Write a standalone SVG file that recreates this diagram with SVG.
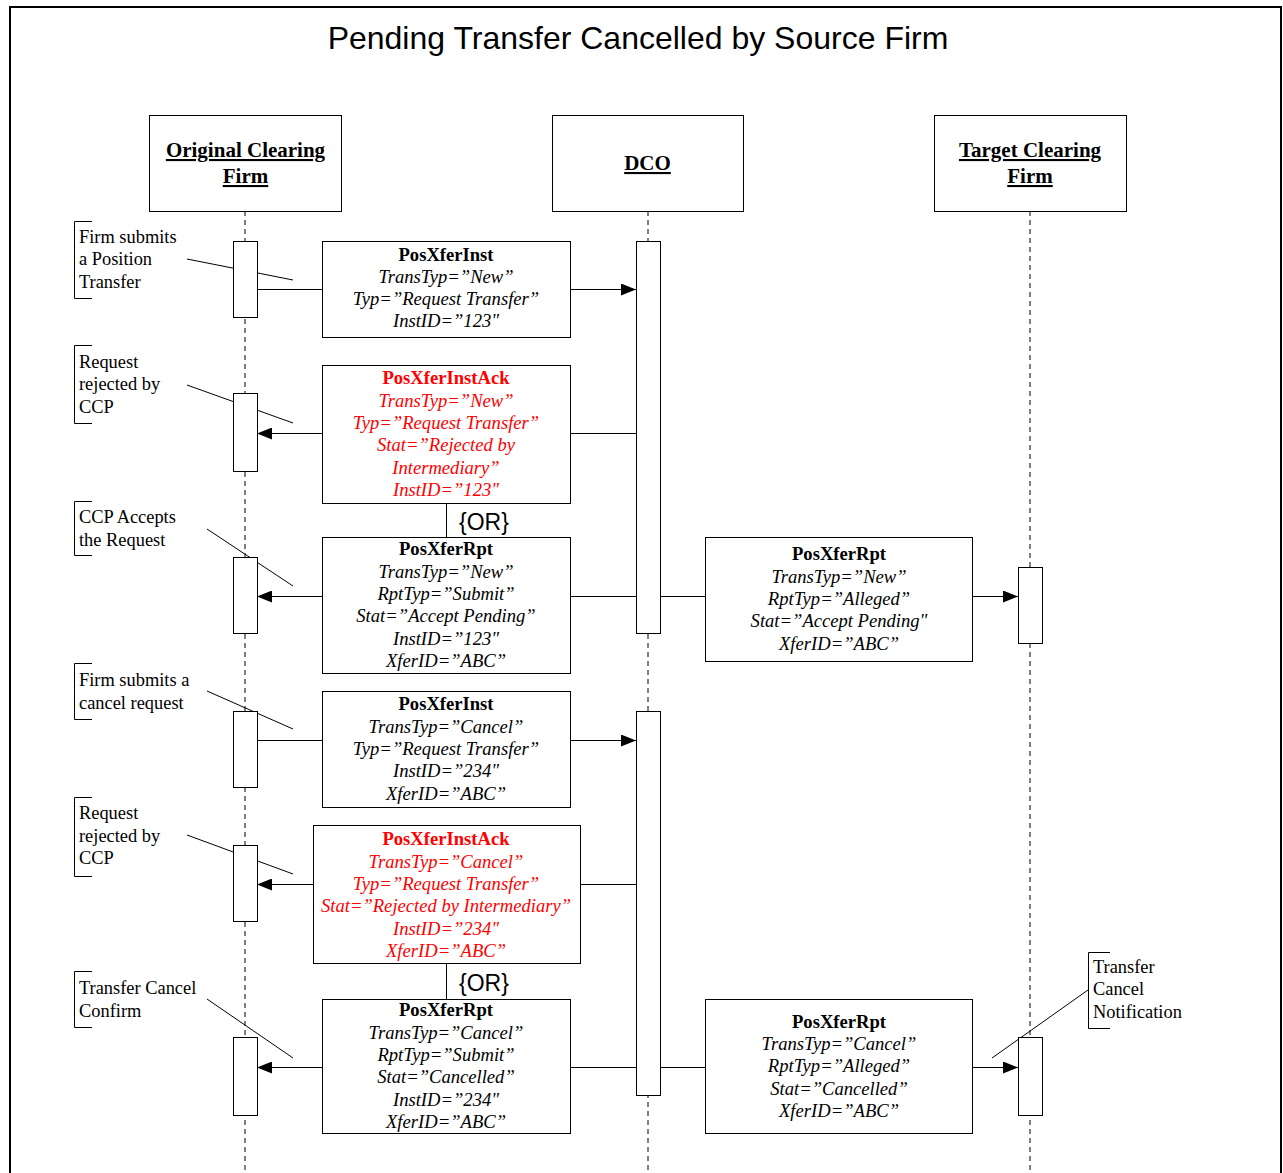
<svg xmlns="http://www.w3.org/2000/svg" width="1283" height="1173" viewBox="0 0 1283 1173">
<style>
.title{font-family:"Liberation Sans",Arial,sans-serif;font-size:32px;fill:#000;text-anchor:middle}
.hdr{font-family:"Liberation Serif","Times New Roman",serif;font-size:21px;font-weight:bold;text-decoration:underline;text-anchor:middle;fill:#000}
.box{fill:#fff;stroke:#000;stroke-width:1}
.bar{fill:#fff;stroke:#000;stroke-width:1}
.life{stroke:#000;stroke-width:1;stroke-dasharray:5,4;fill:none}
.msg{stroke:#000;stroke-width:1;fill:none}
.lead{stroke:#000;stroke-width:1;fill:none}
.brk{stroke:#000;stroke-width:1;fill:none}
.mt{font-family:"Liberation Serif","Times New Roman",serif;font-size:18.6px;text-anchor:middle;fill:#000}
.mt .b{font-weight:bold;font-style:normal}
.mt .i{font-style:italic}
.red{fill:#ff0000}
.note{font-family:"Liberation Serif","Times New Roman",serif;font-size:18.4px;fill:#000}
.or{font-family:"Liberation Sans",Arial,sans-serif;font-size:23px;fill:#000}
</style>
<defs>
<marker id="ah" markerUnits="userSpaceOnUse" markerWidth="16" markerHeight="12" refX="15" refY="6" orient="auto">
<path d="M0,0 L15,6 L0,12 Z" fill="#000"/>
</marker>
</defs>
<rect width="1283" height="1173" fill="#fff"/>
<path d="M10,1173 L10,7 L1281,7 L1281,1173" fill="none" stroke="#000" stroke-width="2"/>
<text class="title" x="638" y="49">Pending Transfer Cancelled by Source Firm</text>

<g id="lifelines">
<line class="life" x1="245" y1="211" x2="245" y2="1173"/>
<line class="life" x1="648" y1="211" x2="648" y2="1173"/>
<line class="life" x1="1030" y1="211" x2="1030" y2="1173"/>
</g>

<g id="header-original">
<rect class="box" x="149.5" y="115.5" width="192" height="96"/>
<text class="hdr" x="245.5" y="157">Original Clearing</text>
<text class="hdr" x="245.5" y="183">Firm</text>
</g>
<g id="header-dco">
<rect class="box" x="552.5" y="115.5" width="191" height="96"/>
<text class="hdr" x="647.5" y="170">DCO</text>
</g>
<g id="header-target">
<rect class="box" x="934.5" y="115.5" width="192" height="96"/>
<text class="hdr" x="1030" y="157">Target Clearing</text>
<text class="hdr" x="1030" y="183">Firm</text>
</g>

<g id="connectors">
<line class="msg" x1="257" y1="289.5" x2="322" y2="289.5"/>
<line class="msg" x1="570" y1="289.5" x2="636" y2="289.5" marker-end="url(#ah)"/>
<line class="msg" x1="636" y1="433.5" x2="570" y2="433.5"/>
<line class="msg" x1="322" y1="433.5" x2="257" y2="433.5" marker-end="url(#ah)"/>
<line class="msg" x1="446.5" y1="503" x2="446.5" y2="537"/>
<line class="msg" x1="636" y1="596.5" x2="570" y2="596.5"/>
<line class="msg" x1="322" y1="596.5" x2="257" y2="596.5" marker-end="url(#ah)"/>
<line class="msg" x1="660" y1="596.5" x2="705" y2="596.5"/>
<line class="msg" x1="972" y1="596.5" x2="1018" y2="596.5" marker-end="url(#ah)"/>
<line class="msg" x1="257" y1="740.5" x2="322" y2="740.5"/>
<line class="msg" x1="570" y1="740.5" x2="636" y2="740.5" marker-end="url(#ah)"/>
<line class="msg" x1="636" y1="884.5" x2="580" y2="884.5"/>
<line class="msg" x1="313" y1="884.5" x2="257" y2="884.5" marker-end="url(#ah)"/>
<line class="msg" x1="446.5" y1="963" x2="446.5" y2="999"/>
<line class="msg" x1="636" y1="1067.5" x2="570" y2="1067.5"/>
<line class="msg" x1="322" y1="1067.5" x2="257" y2="1067.5" marker-end="url(#ah)"/>
<line class="msg" x1="660" y1="1067.5" x2="705" y2="1067.5"/>
<line class="msg" x1="972" y1="1067.5" x2="1018" y2="1067.5" marker-end="url(#ah)"/>
<line class="lead" x1="187" y1="259" x2="293" y2="280"/>
<line class="lead" x1="187" y1="385" x2="293" y2="423"/>
<line class="lead" x1="207" y1="529" x2="293" y2="586"/>
<line class="lead" x1="207" y1="691" x2="293" y2="729"/>
<line class="lead" x1="187" y1="835" x2="293" y2="874"/>
<line class="lead" x1="207" y1="999" x2="293" y2="1058"/>
<line class="lead" x1="1088" y1="990" x2="992" y2="1058"/>
</g>

<g id="activations">
<rect class="bar" x="233.5" y="241.5" width="24" height="76"/>
<rect class="bar" x="233.5" y="393.5" width="24" height="78"/>
<rect class="bar" x="233.5" y="557.5" width="24" height="76"/>
<rect class="bar" x="233.5" y="711.5" width="24" height="76"/>
<rect class="bar" x="233.5" y="845.5" width="24" height="76"/>
<rect class="bar" x="233.5" y="1037.5" width="24" height="78"/>
<rect class="bar" x="636.5" y="241.5" width="24" height="392"/>
<rect class="bar" x="636.5" y="711.5" width="24" height="384"/>
<rect class="bar" x="1018.5" y="567.5" width="24" height="76"/>
<rect class="bar" x="1018.5" y="1037.5" width="24" height="78"/>
</g>

<g id="msg1">
<rect class="box" x="322.5" y="241.5" width="248" height="96"/>
<text class="mt" x="446"><tspan class="b" x="446" y="261">PosXferInst</tspan><tspan class="i" x="446" y="283">TransTyp=”New”</tspan><tspan class="i" x="446" y="305">Typ=”Request Transfer”</tspan><tspan class="i" x="446" y="327">InstID=”123"</tspan></text>
</g>
<g id="msg2">
<rect class="box" x="322.5" y="365.5" width="248" height="138"/>
<text class="mt red" x="446"><tspan class="b" x="446" y="384">PosXferInstAck</tspan><tspan class="i" x="446" y="407">TransTyp=”New”</tspan><tspan class="i" x="446" y="429">Typ=”Request Transfer”</tspan><tspan class="i" x="446" y="451">Stat=”Rejected by</tspan><tspan class="i" x="446" y="474">Intermediary”</tspan><tspan class="i" x="446" y="496">InstID=”123"</tspan></text>
</g>
<g id="or1">
<text class="or" x="459" y="530">{OR}</text>
</g>
<g id="msg3">
<rect class="box" x="322.5" y="537.5" width="248" height="136"/>
<text class="mt" x="446"><tspan class="b" x="446" y="555">PosXferRpt</tspan><tspan class="i" x="446" y="578">TransTyp=”New”</tspan><tspan class="i" x="446" y="600">RptTyp=”Submit”</tspan><tspan class="i" x="446" y="622">Stat=”Accept Pending”</tspan><tspan class="i" x="446" y="645">InstID=”123"</tspan><tspan class="i" x="446" y="667">XferID=”ABC”</tspan></text>
</g>
<g id="msg4">
<rect class="box" x="705.5" y="537.5" width="267" height="124"/>
<text class="mt" x="839"><tspan class="b" x="839" y="560">PosXferRpt</tspan><tspan class="i" x="839" y="583">TransTyp=”New”</tspan><tspan class="i" x="839" y="605">RptTyp=”Alleged”</tspan><tspan class="i" x="839" y="627">Stat=”Accept Pending"</tspan><tspan class="i" x="839" y="650">XferID=”ABC”</tspan></text>
</g>
<g id="msg5">
<rect class="box" x="322.5" y="691.5" width="248" height="116"/>
<text class="mt" x="446"><tspan class="b" x="446" y="710">PosXferInst</tspan><tspan class="i" x="446" y="733">TransTyp=”Cancel”</tspan><tspan class="i" x="446" y="755">Typ=”Request Transfer”</tspan><tspan class="i" x="446" y="777">InstID=”234"</tspan><tspan class="i" x="446" y="800">XferID=”ABC”</tspan></text>
</g>
<g id="msg6">
<rect class="box" x="313.5" y="825.5" width="267" height="138"/>
<text class="mt red" x="446"><tspan class="b" x="446" y="845">PosXferInstAck</tspan><tspan class="i" x="446" y="868">TransTyp=”Cancel”</tspan><tspan class="i" x="446" y="890">Typ=”Request Transfer”</tspan><tspan class="i" x="446" y="912">Stat=”Rejected by Intermediary”</tspan><tspan class="i" x="446" y="935">InstID=”234"</tspan><tspan class="i" x="446" y="957">XferID=”ABC”</tspan></text>
</g>
<g id="or2">
<text class="or" x="459" y="991">{OR}</text>
</g>
<g id="msg7">
<rect class="box" x="322.5" y="999.5" width="248" height="134"/>
<text class="mt" x="446"><tspan class="b" x="446" y="1016">PosXferRpt</tspan><tspan class="i" x="446" y="1039">TransTyp=”Cancel”</tspan><tspan class="i" x="446" y="1061">RptTyp=”Submit”</tspan><tspan class="i" x="446" y="1083">Stat=”Cancelled”</tspan><tspan class="i" x="446" y="1106">InstID=”234"</tspan><tspan class="i" x="446" y="1128">XferID=”ABC”</tspan></text>
</g>
<g id="msg8">
<rect class="box" x="705.5" y="999.5" width="267" height="134"/>
<text class="mt" x="839"><tspan class="b" x="839" y="1028">PosXferRpt</tspan><tspan class="i" x="839" y="1050">TransTyp=”Cancel”</tspan><tspan class="i" x="839" y="1072">RptTyp=”Alleged”</tspan><tspan class="i" x="839" y="1095">Stat=”Cancelled”</tspan><tspan class="i" x="839" y="1117">XferID=”ABC”</tspan></text>
</g>

<g id="note1">
<path class="brk" d="M92,221.5 H74.5 V298.5 H92"/>
<text class="note" x="79"><tspan x="79" y="243">Firm submits</tspan><tspan x="79" y="265">a Position</tspan><tspan x="79" y="288">Transfer</tspan></text>
</g>
<g id="note2">
<path class="brk" d="M92,345.5 H74.5 V423.5 H92"/>
<text class="note" x="79"><tspan x="79" y="368">Request</tspan><tspan x="79" y="390">rejected by</tspan><tspan x="79" y="413">CCP</tspan></text>
</g>
<g id="note3">
<path class="brk" d="M92,501.5 H74.5 V555.5 H92"/>
<text class="note" x="79"><tspan x="79" y="523">CCP Accepts</tspan><tspan x="79" y="546">the Request</tspan></text>
</g>
<g id="note4">
<path class="brk" d="M92,663.5 H74.5 V719.5 H92"/>
<text class="note" x="79"><tspan x="79" y="686">Firm submits a</tspan><tspan x="79" y="709">cancel request</tspan></text>
</g>
<g id="note5">
<path class="brk" d="M92,797.5 H74.5 V876.5 H92"/>
<text class="note" x="79"><tspan x="79" y="819">Request</tspan><tspan x="79" y="842">rejected by</tspan><tspan x="79" y="864">CCP</tspan></text>
</g>
<g id="note6">
<path class="brk" d="M92,971.5 H74.5 V1027.5 H92"/>
<text class="note" x="79"><tspan x="79" y="994">Transfer Cancel</tspan><tspan x="79" y="1017">Confirm</tspan></text>
</g>
<g id="note7">
<path class="brk" d="M1110,952.5 H1088.5 V1028.5 H1110"/>
<text class="note" x="1093"><tspan x="1093" y="973">Transfer</tspan><tspan x="1093" y="995">Cancel</tspan><tspan x="1093" y="1018">Notification</tspan></text>
</g>
</svg>
